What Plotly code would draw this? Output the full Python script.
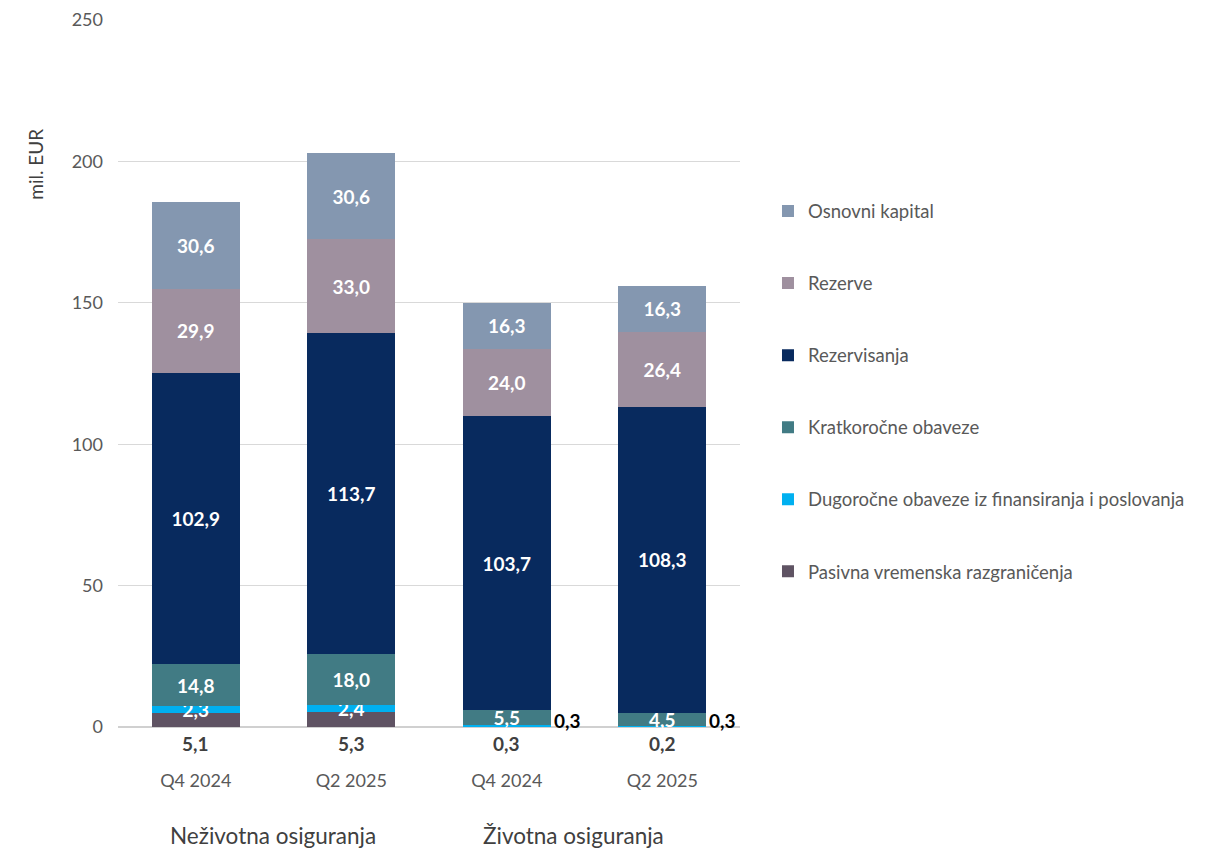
import plotly.graph_objects as go

categories = ["Q4 2024", "Q2 2025", "Q4 2024", "Q2 2025"]
groups = ["Neživotna osiguranja", "Životna osiguranja"]

pasivna = [5.1, 5.3, 0.3, 0.2]
dugorocne = [2.3, 2.4, 0.3, 0.3]
kratkorocne = [14.8, 18.0, 5.5, 4.5]
rezervisanja = [102.9, 113.7, 103.7, 108.3]
rezerve = [29.9, 33.0, 24.0, 26.4]
osnovni = [30.6, 30.6, 16.3, 16.3]

series = [
    ("Pasivna vremenska razgraničenja", pasivna, "#5F5363"),
    ("Dugoročne obaveze iz finansiranja i poslovanja", dugorocne, "#00B0F0"),
    ("Kratkoročne obaveze", kratkorocne, "#417B84"),
    ("Rezervisanja", rezervisanja, "#082A5E"),
    ("Rezerve", rezerve, "#9F909F"),
    ("Osnovni kapital", osnovni, "#8497B0"),
]

def fmt(v):
    return f"{v:.1f}".replace(".", ",")

x = list(range(len(categories)))
FONT = "Lato, Open Sans, sans-serif"
LBL = 19

fig = go.Figure()
n = len(series)
for i, (name, vals, color) in enumerate(series):
    if name.startswith("Pasivna"):
        txt = [""] * len(vals)
    elif name.startswith("Dugoročne"):
        txt = [fmt(v) if v > 1 else "" for v in vals]
    else:
        txt = [fmt(v) for v in vals]
    fig.add_trace(go.Bar(
        x=x, y=vals, name=name, marker=dict(color=color, line=dict(width=0)),
        text=txt, textposition="inside", insidetextanchor="middle",
        textfont=dict(color="white", size=LBL, family=FONT, weight="bold"),
        constraintext="none", cliponaxis=False,
        legendgroup=name, legendrank=n - i, width=0.565, hoverinfo="skip",
    ))

annotations = []
# Pasivna labels below axis
for xi, v in zip(x, pasivna):
    annotations.append(dict(x=xi, y=0, xref="x", yref="y", text=fmt(v), showarrow=False,
                            yshift=-16, font=dict(size=LBL, color="#404040", family=FONT, weight="bold")))
# small Dugoročne labels to right
for xi, v, p in zip(x, dugorocne, pasivna):
    if v <= 1:
        annotations.append(dict(x=xi + 0.283, y=p + v, xref="x", yref="y", text=fmt(v), showarrow=False,
                                xanchor="left", yshift=5, xshift=1,
                                font=dict(size=LBL, color="black", family=FONT, weight="bold")))
# group labels
annotations.append(dict(x=0.494, y=0, xref="x", yref="paper", text=groups[0], showarrow=False,
                        yanchor="middle", yshift=-108, font=dict(size=22.5, color="#404040", family=FONT)))
annotations.append(dict(x=2.43, y=0, xref="x", yref="paper", text=groups[1], showarrow=False,
                        yanchor="middle", yshift=-108, font=dict(size=22.5, color="#404040", family=FONT)))
# y-axis title
annotations.append(dict(x=0, y=199, xref="paper", yref="y", text="mil. EUR", showarrow=False,
                        textangle=-90, xshift=-96, font=dict(size=19, color="#404040", family=FONT)))

fig.update_layout(
    width=1199, height=840,
    margin=dict(l=110, r=467, t=12, b=121, autoexpand=False),
    paper_bgcolor="white", plot_bgcolor="white",
    barmode="stack",
    font=dict(family=FONT, color="#595959", size=18),
    showlegend=True,
    legend=dict(x=1.045, y=0.756, xanchor="left", yanchor="top",
                traceorder="grouped", tracegroupgap=45,
                font=dict(size=18.5, color="#595959", family=FONT), itemwidth=30),
    annotations=annotations,
    uniformtext=dict(minsize=LBL, mode="show"),
)
fig.update_xaxes(range=[-0.5, 3.5], tickvals=x, ticktext=categories, showgrid=False,
                 showline=False, zeroline=False, ticks="", ticklabelstandoff=41, automargin=False,
                 tickfont=dict(size=18, color="#595959", family=FONT))
fig.update_yaxes(range=[0, 250], dtick=50, showgrid=True, gridcolor="#D9D9D9", gridwidth=1,
                 zeroline=True, zerolinecolor="#D0D0D0", zerolinewidth=2, showline=False,
                 ticks="", ticklabelstandoff=14, automargin=False,
                 tickfont=dict(size=18, color="#595959", family=FONT))

fig.write_html("out.html")
